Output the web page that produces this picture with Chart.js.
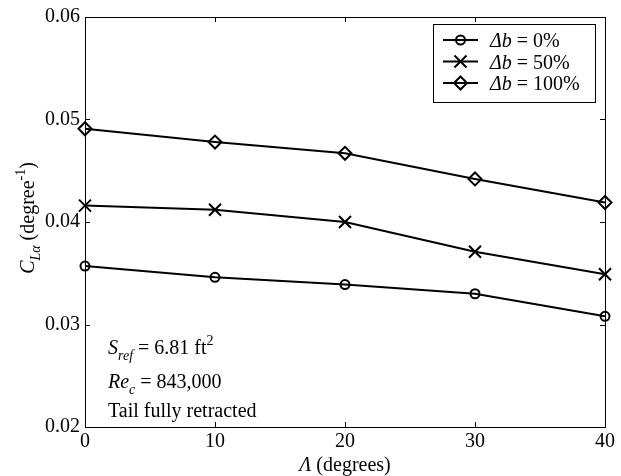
<!DOCTYPE html>
<html><head><meta charset="utf-8">
<script src="https://cdn.jsdelivr.net/npm/chart.js@4"></script>
<style>html,body{margin:0;padding:0;background:#fff;}#wrap{width:621px;height:476px;}</style>
</head><body><div id="wrap"><canvas id="c" width="621" height="476"></canvas></div>
<script>
// ---- data ----
const sweepDeg = [0, 10, 20, 30, 40];
const clAlphaDb0 = [0.0357, 0.0346, 0.0339, 0.0330, 0.0308];
const clAlphaDb50 = [0.0416, 0.0412, 0.0400, 0.0371, 0.0349];
const clAlphaDb100 = [0.0491, 0.0478, 0.0467, 0.0442, 0.0419];
const seriesLabels = ['0%', '50%', '100%'];
const xTickValues = [0, 10, 20, 30, 40];
const yTickValues = [0.02, 0.03, 0.04, 0.05, 0.06];
const noteLines = [
  [{t:'S', it:true}, {t:'ref', it:true, pos:'sub'}, {t:' = 6.81 ft'}, {t:'2', pos:'sup'}],
  [{t:'Re', it:true}, {t:'c', it:true, pos:'sub'}, {t:' = 843,000'}],
  [{t:'Tail fully retracted'}]
];
const xTitle = [{t:'Λ', it:true}, {t:' (degrees)'}];
const yTitle = [{t:'C', it:true}, {t:'Lα', it:true, pos:'sub'}, {t:' (degree'}, {t:'-1', pos:'sup'}, {t:')'}];

const FONT = '"Liberation Serif", "Times New Roman", serif';
const styles = [
  {pointStyle:'circle', radius:4.5},
  {pointStyle:'crossRot', radius:8.5},
  {pointStyle:'rectRot', radius:6.5}
];
const seriesData = [clAlphaDb0, clAlphaDb50, clAlphaDb100];

const datasets = seriesData.map((arr, i) => ({
  label: 'Δb = ' + seriesLabels[i],
  data: sweepDeg.map((x, j) => ({x: x, y: arr[j]})),
  borderColor: '#000', backgroundColor: 'rgba(0,0,0,0)',
  borderWidth: 2, tension: 0,
  pointStyle: styles[i].pointStyle, pointRadius: styles[i].radius,
  pointBorderColor: '#000', pointBackgroundColor: 'rgba(0,0,0,0)',
  pointBorderWidth: 2, clip: false
}));

function drawRich(ctx, segs, x, y, align) {
  let w = 0;
  const items = segs.map(s => {
    const size = s.pos ? 14 : 20;
    const font = (s.it ? 'italic ' : '') + size + 'px ' + FONT;
    ctx.font = font;
    const width = ctx.measureText(s.t).width;
    w += width;
    return {t:s.t, font, width, dy: s.pos === 'sub' ? 6 : (s.pos === 'sup' ? -9 : 0)};
  });
  let cx = align === 'center' ? x - w / 2 : x;
  ctx.textAlign = 'left'; ctx.textBaseline = 'alphabetic'; ctx.fillStyle = '#000';
  items.forEach(it => { ctx.font = it.font; ctx.fillText(it.t, cx, y + it.dy); cx += it.width; });
}

const framePlugin = {
  id: 'frame',
  beforeDatasetsDraw(chart) {
    const {ctx, chartArea: a, scales} = chart;
    ctx.save();
    ctx.strokeStyle = '#000'; ctx.lineWidth = 1;
    ctx.strokeRect(Math.round(a.left) + 0.5, Math.round(a.top) + 0.5, Math.round(a.right - a.left), Math.round(a.bottom - a.top));
    ctx.beginPath();
    const tl = 5;
    xTickValues.forEach(v => {
      const px = Math.round(scales.x.getPixelForValue(v)) + 0.5;
      ctx.moveTo(px, a.bottom); ctx.lineTo(px, a.bottom - tl);
      ctx.moveTo(px, a.top); ctx.lineTo(px, a.top + tl);
    });
    yTickValues.forEach(v => {
      const py = Math.round(scales.y.getPixelForValue(v)) + 0.5;
      ctx.moveTo(a.left, py); ctx.lineTo(a.left + tl, py);
      ctx.moveTo(a.right, py); ctx.lineTo(a.right - tl, py);
    });
    ctx.stroke();
    ctx.restore();
  },
  afterDatasetsDraw(chart) {
    const {ctx, chartArea: a} = chart;
    ctx.save();
    // legend
    const bx = 433, by = 24, bw = 162, bh = 78;
    ctx.fillStyle = '#fff'; ctx.fillRect(bx, by, bw, bh);
    ctx.strokeStyle = '#000'; ctx.lineWidth = 1;
    ctx.strokeRect(bx + 0.5, by + 0.5, bw, bh);
    const rows = [40, 61.5, 83];
    chart.data.datasets.forEach((ds, i) => {
      const cy = rows[i];
      ctx.strokeStyle = '#000'; ctx.lineWidth = 2;
      ctx.beginPath(); ctx.moveTo(443, cy); ctx.lineTo(478, cy); ctx.stroke();
      ctx.fillStyle = 'rgba(0,0,0,0)';
      Chart.helpers.drawPoint(ctx, {pointStyle: ds.pointStyle, radius: ds.pointRadius, rotation: 0, borderWidth: 2}, 460.5, cy);
      drawRich(ctx, [{t:'Δ', it:true}, {t:'b', it:true}, {t:' = ' + seriesLabels[i]}], 490, cy + 7, 'left');
    });
    // notes
    const noteY = [354, 388, 417];
    noteLines.forEach((segs, i) => drawRich(ctx, segs, 108, noteY[i], 'left'));
    // axis titles
    drawRich(ctx, xTitle, (a.left + a.right) / 2, 471, 'center');
    ctx.translate(34, 218); ctx.rotate(-Math.PI / 2);
    drawRich(ctx, yTitle, 0, 0, 'center');
    ctx.restore();
  }
};

new Chart(document.getElementById('c'), {
  type: 'line',
  data: {datasets},
  options: {
    responsive: false, animation: false, devicePixelRatio: 1,
    layout: {padding: {top: 16, right: 16, left: 0, bottom: 0}},
    plugins: {legend: {display: false}, tooltip: {enabled: false}},
    scales: {
      x: {
        type: 'linear', min: 0, max: 40,
        afterBuildTicks: s => { s.ticks = xTickValues.map(v => ({value: v})); },
        afterFit: s => { s.height = 49; },
        ticks: {color: '#000', font: {family: FONT, size: 20}, padding: 3, maxRotation: 0, autoSkip: false},
        grid: {display: false, drawTicks: false}, border: {display: false}
      },
      y: {
        type: 'linear', min: 0.02, max: 0.06,
        afterBuildTicks: s => { s.ticks = yTickValues.map(v => ({value: v})); },
        afterFit: s => { s.width = 85; },
        ticks: {color: '#000', font: {family: FONT, size: 20}, padding: 5, autoSkip: false,
                callback: v => Number(v).toFixed(2)},
        grid: {display: false, drawTicks: false}, border: {display: false}
      }
    }
  },
  plugins: [framePlugin]
});
</script></body></html>
